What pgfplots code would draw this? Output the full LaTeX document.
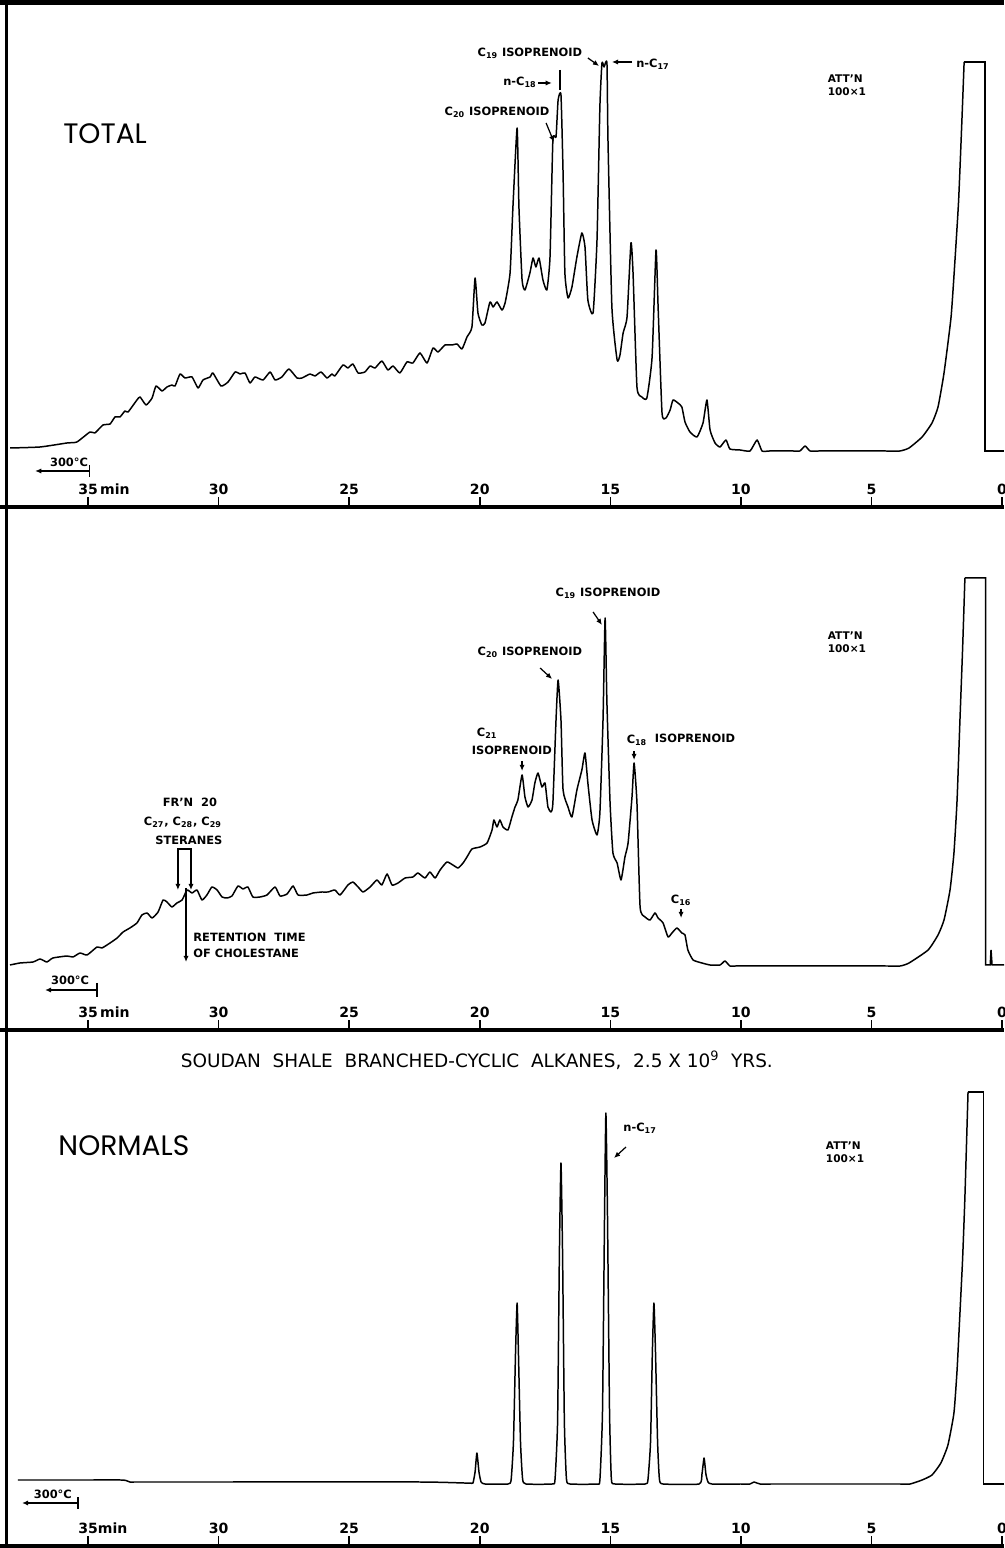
\documentclass[border=0pt]{standalone}
\usepackage{fontspec}
\setmainfont{DejaVu Sans}
\newfontfamily\gfont{Poppins}
\usepackage{pgfplots}
\pgfplotsset{compat=1.18}
\usetikzlibrary{arrows.meta}

\pgfplotsset{
  chrom/.style={
    scale only axis, width=20.08cm,
    xmin=-0.0766, xmax=38.375, x dir=reverse,
    axis x line=bottom, axis y line=none,
    x axis line style={line width=2.6pt, -},
    xtick={0,5,10,15,20,25,30,35},
    xtick align=inside, major tick length=0.19cm,
    xtick style={line width=0.9pt, black},
    xticklabel style={anchor=south, yshift=0.13cm, font=\fontsize{8}{9}\selectfont\bfseries},
    ytick=\empty, clip=false,
  },
  trace/.style={black, line width=0.85pt, line join=round, smooth, tension=0.3, no markers},
  box/.style={black, line width=0.85pt, line join=miter, sharp plot, no markers},
}
\tikzset{
  lab/.style={font=\fontsize{6.5}{7.5}\selectfont\bfseries, inner sep=0pt},
  att/.style={font=\fontsize{6}{7.5}\selectfont\bfseries, inner sep=0pt, align=left},
  big/.style={font=\fontsize{16}{18}\selectfont\gfont, inner sep=0pt},
  arr/.style={-{Latex[length=3.5pt,width=3pt]}, line width=0.7pt},
}

\begin{document}
\begin{tikzpicture}

% ---------------- TOTAL ----------------
\begin{axis}[chrom, at={(0cm,20.82cm)}, height=10.10cm, ymin=-57, ymax=448,
  xticklabels={0,5,10,15,20,25,30,35\rlap{\,min}}]
\addplot[trace] coordinates {
(37.99,2) (36.84,3) (35.81,7) (35.43,8) (34.93,18) (34.74,17) (34.43,25) (34.16,26)
(33.97,33) (33.78,33) (33.59,39) (33.47,38) (33.13,50) (33.01,53) (32.78,45) (32.55,52)
(32.40,64) (32.17,59) (31.98,63) (31.79,65) (31.67,64) (31.48,76) (31.29,72) (31.02,73)
(30.79,62) (30.60,70) (30.33,73) (30.22,77) (29.91,64) (29.64,68) (29.37,78) (29.18,76)
(28.99,77) (28.80,67) (28.61,73) (28.30,70) (28.03,78) (27.84,70) (27.58,73) (27.31,81)
(27.00,72) (26.81,72) (26.50,76) (26.31,74) (26.08,78) (25.85,72) (25.66,76) (25.55,74)
(25.24,85) (25.05,82) (24.86,86) (24.66,77) (24.40,78) (24.20,84) (24.01,82) (23.75,89)
(23.52,80) (23.32,84) (23.06,77) (22.79,88) (22.56,87) (22.29,97) (22.02,87) (21.79,102)
(21.60,98) (21.33,105) (21.06,105) (20.87,106) (20.68,101) (20.49,113) (20.30,123) (20.18,172)
(20.07,137) (19.92,125) (19.80,127) (19.61,148) (19.49,143) (19.34,148) (19.15,140) (19.03,147)
(18.84,177) (18.73,243) (18.57,322) (18.50,243) (18.38,170) (18.27,160) (18.08,177) (17.96,192)
(17.85,183) (17.73,192) (17.58,170) (17.43,160) (17.31,193) (17.20,310) (17.08,313) (17.00,350)
(16.89,355) (16.81,277) (16.74,177) (16.62,152) (16.47,163) (16.28,193) (16.09,217) (15.97,203)
(15.86,150) (15.66,137) (15.51,210) (15.40,343) (15.32,387) (15.24,383) (15.13,387) (15.09,310)
(14.94,143) (14.74,90) (14.63,95) (14.51,117) (14.36,133) (14.21,207) (14.13,177) (13.98,63)
(13.79,53) (13.60,52) (13.40,93) (13.25,200) (13.17,143) (13.02,37) (12.87,32) (12.71,40)
(12.60,50) (12.41,47) (12.26,43) (12.14,28) (11.95,18) (11.68,13) (11.45,27) (11.30,50)
(11.18,20) (10.99,7) (10.80,3) (10.57,10) (10.42,1) (10.03,0) (9.65,-1) (9.38,10)
(9.19,-1) (8.90,-1) (8.00,-1) (7.74,-1) (7.54,4) (7.35,-1) (7.00,-1) (4.50,-1)
(3.91,-1) (3.56,2) (3.06,13) (2.68,27)
(2.45,43) (2.22,77) (1.95,133) (1.80,190) (1.66,250) (1.53,333) (1.45,388)
};
\addplot[box] coordinates {(1.45,388) (0.65,388) (0.65,-1) (-0.08,-1)};

\node[big] at (axis cs:34.35,316) {TOTAL};
\node[att] at (axis cs:5.94,365) {ATT'N\\100×1};
\node[lab] at (axis cs:18.08,397) {C\textsubscript{19} ISOPRENOID};
\draw[arr] (axis cs:15.86,392) -- (axis cs:15.43,384);
\draw[arr] (axis cs:14.17,388) -- (axis cs:14.94,388);
\node[lab, anchor=west] at (axis cs:14.02,386) {n-C\textsubscript{17}};
\node[lab] at (axis cs:18.46,368) {n-C\textsubscript{18}};
\draw[arr] (axis cs:17.77,367) -- (axis cs:17.24,367);
\draw[line width=0.9pt] (axis cs:16.93,380) -- (axis cs:16.93,360);
\node[lab] at (axis cs:19.34,338) {C\textsubscript{20} ISOPRENOID};
\draw[arr] (axis cs:17.46,327) -- (axis cs:17.16,308);
\node[lab] at (axis cs:35.73,-12) {300°C};
\draw[arr] (axis cs:34.94,-21) -- (axis cs:37.03,-21);
\draw[line width=0.8pt] (axis cs:34.94,-15) -- (axis cs:34.94,-27);
\end{axis}

% ---------------- BRANCHED-CYCLIC ----------------
\begin{axis}[chrom, at={(0cm,10.36cm)}, height=10.46cm, ymin=-65, ymax=458,
  xticklabels={0,5,10,15,20,25,30,35\rlap{\,min}}]
\addplot[trace] coordinates {
(37.99,0) (37.61,2) (37.11,3) (36.84,6) (36.58,3) (36.35,7) (35.81,9) (35.58,8)
(35.31,12) (35.04,10) (34.66,18) (34.47,17) (34.16,22) (33.89,27) (33.66,33) (33.40,37)
(33.13,42) (32.94,50) (32.74,52) (32.55,47) (32.32,53) (32.13,65) (31.98,63) (31.79,58)
(31.60,62) (31.40,65) (31.21,75) (31.02,72) (30.83,75) (30.64,65) (30.45,70) (30.26,78)
(30.06,75) (29.87,68) (29.68,67) (29.49,69) (29.26,79) (29.07,76) (28.88,78) (28.69,68)
(28.42,68) (28.15,70) (27.84,78) (27.65,69) (27.38,71) (27.15,79) (26.96,70) (26.62,70)
(26.39,72) (26.04,73) (25.81,73) (25.55,75) (25.35,70) (25.05,80) (24.86,83) (24.66,78)
(24.47,73) (24.20,78) (23.94,85) (23.75,80) (23.55,91) (23.36,80) (23.13,82) (22.86,87)
(22.56,88) (22.37,92) (22.10,87) (21.91,93) (21.71,87) (21.52,95) (21.26,103) (21.03,100)
(20.83,97) (20.64,102) (20.49,108) (20.30,116) (19.99,118) (19.72,122) (19.53,135) (19.46,145)
(19.34,138) (19.23,145) (19.11,138) (18.92,135) (18.77,148) (18.65,158) (18.54,165) (18.38,190)
(18.27,168) (18.15,158) (18.00,165) (17.89,182) (17.77,192) (17.62,178) (17.50,182) (17.39,158)
(17.27,153) (17.20,162) (17.08,245) (17.00,285) (16.89,245) (16.81,175) (16.62,158) (16.47,148)
(16.28,175) (16.09,195) (15.97,212) (15.86,182) (15.70,145) (15.51,130) (15.40,152) (15.28,245)
(15.20,347) (15.13,262) (15.01,162) (14.90,112) (14.74,102) (14.59,85) (14.44,108) (14.32,122)
(14.17,168) (14.09,202) (13.98,162) (13.86,58) (13.67,48) (13.48,45) (13.29,52) (13.17,47)
(12.98,42) (12.79,28) (12.64,32) (12.45,37) (12.26,32) (12.14,30) (12.03,15) (11.83,5)
(11.49,2) (11.18,0) (10.80,0) (10.61,4) (10.42,-1) (10.20,-1) (9.60,-1) (4.50,-1)
(3.90,-1) (3.56,2) (2.83,15)
(2.45,30) (2.22,45) (1.99,75) (1.84,112) (1.72,165) (1.61,245) (1.51,315) (1.42,387)
};
\addplot[box] coordinates {(1.42,387) (0.63,387) (0.63,0) (0.45,0) (0.42,15) (0.38,0) (-0.08,0)};

\node[att] at (axis cs:5.94,323) {ATT'N\\100×1};
\node[lab] at (axis cs:15.09,372) {C\textsubscript{19} ISOPRENOID};
\draw[arr] (axis cs:15.66,353) -- (axis cs:15.32,340);
\node[lab] at (axis cs:18.08,313) {C\textsubscript{20} ISOPRENOID};
\draw[arr] (axis cs:17.69,297) -- (axis cs:17.23,286);
\node[lab] at (axis cs:19.72,232) {C\textsubscript{21}};
\node[lab] at (axis cs:18.77,215) {ISOPRENOID};
\draw[arr] (axis cs:18.38,204) -- (axis cs:18.38,194);
\node[lab] at (axis cs:13.98,225) {C\textsubscript{18}};
\node[lab] at (axis cs:11.76,227) {ISOPRENOID};
\draw[arr] (axis cs:14.09,214) -- (axis cs:14.09,205);
\node[lab] at (axis cs:12.29,65) {C\textsubscript{16}};
\draw[arr] (axis cs:12.29,56) -- (axis cs:12.29,47);
\node[lab] at (axis cs:31.10,163) {FR'N\ \ 20};
\node[lab] at (axis cs:31.37,143) {C\textsubscript{27}, C\textsubscript{28}, C\textsubscript{29}};
\node[lab] at (axis cs:31.14,125) {STERANES};
\draw[arr, {Latex[length=3.5pt,width=3pt]}-{Latex[length=3.5pt,width=3pt]}]
  (axis cs:31.56,75) -- (axis cs:31.56,116) -- (axis cs:31.06,116) -- (axis cs:31.06,75);
\draw[arr] (axis cs:31.25,77) -- (axis cs:31.25,3);
\node[lab, anchor=west] at (axis cs:30.98,28) {RETENTION\ \ TIME};
\node[lab, anchor=west] at (axis cs:30.98,12) {OF CHOLESTANE};
\node[lab] at (axis cs:35.69,-15) {300°C};
\draw[arr] (axis cs:34.66,-25) -- (axis cs:36.65,-25);
\draw[line width=0.8pt] (axis cs:34.66,-18) -- (axis cs:34.66,-32);
\end{axis}

% ---------------- NORMALS ----------------
\begin{axis}[chrom, at={(0cm,0.04cm)}, height=10.32cm, ymin=-64, ymax=452,
  xticklabels={0,5,10,15,20,25,30,35\rlap{min}}]
\addplot[trace] coordinates {
(37.69,2) (35.00,2) (33.75,2) (33.55,1.5) (33.40,0) (33.20,0) (30.00,0) (22.29,0)
(20.60,-1) (20.37,-1) (20.26,-1) (20.18,10) (20.11,29)
(20.03,10) (19.95,0) (19.80,-2) (18.92,-2) (18.80,2) (18.71,40) (18.63,130) (18.57,179)
(18.52,130) (18.44,40) (18.36,3) (18.23,-2) (17.23,-2) (17.12,2) (17.02,60) (16.95,230)
(16.89,319) (16.83,230) (16.76,60) (16.68,3) (16.54,-2) (15.51,-2) (15.40,2) (15.30,70)
(15.22,270) (15.17,369) (15.11,270) (15.03,70) (14.96,3) (14.82,-2) (13.67,-2) (13.56,2)
(13.46,40) (13.39,130) (13.33,179) (13.27,130) (13.19,40) (13.12,3) (12.98,-2) (11.60,-2)
(11.49,8) (11.41,24) (11.34,8) (11.26,0) (11.11,-2) (10.00,-2) (9.65,-2) (9.50,0) (9.27,-2)
(8.80,-2) (4.50,-2) (3.90,-2)
(3.52,-2) (3.06,2) (2.68,7) (2.34,19) (2.07,37) (1.84,69) (1.72,112) (1.61,169)
(1.51,222) (1.42,285) (1.30,390)
};
\addplot[box] coordinates {(1.30,390) (0.71,390) (0.71,-2) (-0.08,-2)};

\node[font=\fontsize{10.5}{12}\selectfont, inner sep=0pt] at (axis cs:20.11,422)
  {SOUDAN\ \ SHALE\ \ BRANCHED-CYCLIC\ \ ALKANES,\ \ 2.5 X 10\textsuperscript{9}\ \ YRS.};
\node[big] at (axis cs:33.63,336) {NORMALS};
\node[att] at (axis cs:6.01,330) {ATT'N\\100×1};
\node[lab] at (axis cs:13.86,354) {n-C\textsubscript{17}};
\draw[arr] (axis cs:14.40,335) -- (axis cs:14.86,324);
\node[lab] at (axis cs:36.35,-12) {300°C};
\draw[arr] (axis cs:35.39,-21) -- (axis cs:37.53,-21);
\draw[line width=0.8pt] (axis cs:35.39,-15) -- (axis cs:35.39,-27);
\end{axis}

% frame
\draw[line width=2.6pt] (0,30.91) -- (20.08,30.91);
\draw[line width=2pt] (0.13,0) -- (0.13,30.96);

\pgfresetboundingbox
\path[use as bounding box] (0,0) rectangle (20.08,30.96);
\end{tikzpicture}
\end{document}
